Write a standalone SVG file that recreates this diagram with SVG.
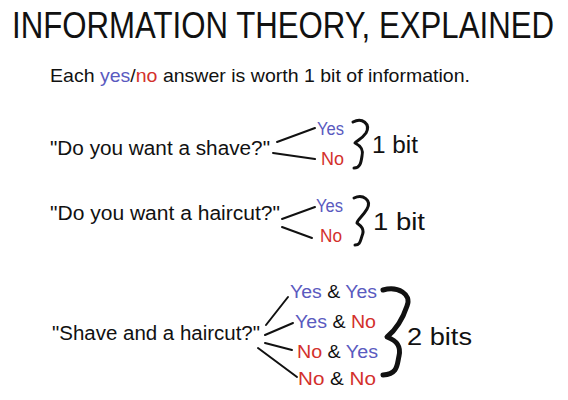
<svg xmlns="http://www.w3.org/2000/svg" width="568" height="400" viewBox="0 0 568 400">
<style>
text{font-family:"Liberation Sans","DejaVu Sans",sans-serif;fill:#111}
.y{fill:#5a5ac0}
.n{fill:#d3302c}
.q{font-size:20px}
.a{font-size:18px}
.b{font-size:23px}
.ln{stroke:#111;stroke-width:2;fill:none;stroke-linecap:round}
.br{stroke:#111;stroke-width:3;fill:none;stroke-linecap:round;stroke-linejoin:round}
</style>
<rect width="568" height="400" fill="#fff"/>
<g id="title"><text x="12" y="31.7" font-size="30" transform="scale(1,1.2)" textLength="542" lengthAdjust="spacingAndGlyphs">INFORMATION THEORY, EXPLAINED</text></g>
<g id="subtitle"><text x="50" y="82" font-size="19" textLength="420" lengthAdjust="spacingAndGlyphs">Each <tspan class="y">yes</tspan>/<tspan class="n">no</tspan> answer is worth 1 bit of information.</text></g>
<g id="q1">
<text class="q" x="50" y="155" textLength="220" lengthAdjust="spacingAndGlyphs">"Do you want a shave?"</text>
<text class="a y" x="317" y="135" textLength="27" lengthAdjust="spacingAndGlyphs">Yes</text>
<text class="a n" x="321" y="165" textLength="23" lengthAdjust="spacingAndGlyphs">No</text>
<text class="b" x="372" y="153" textLength="46" lengthAdjust="spacingAndGlyphs">1 bit</text>
</g>
<g id="q2">
<text class="q" x="50" y="220" textLength="230" lengthAdjust="spacingAndGlyphs">"Do you want a haircut?"</text>
<text class="a y" x="316" y="212" textLength="27" lengthAdjust="spacingAndGlyphs">Yes</text>
<text class="a n" x="320" y="242" textLength="22" lengthAdjust="spacingAndGlyphs">No</text>
<text class="b" x="373" y="230" textLength="52" lengthAdjust="spacingAndGlyphs">1 bit</text>
</g>
<g id="q3">
<text class="q" x="52" y="340" textLength="208" lengthAdjust="spacingAndGlyphs">"Shave and a haircut?"</text>
<text class="a" x="290" y="298" textLength="87" lengthAdjust="spacingAndGlyphs"><tspan class="y">Yes</tspan> &amp; <tspan class="y">Yes</tspan></text>
<text class="a" x="295" y="328" textLength="81" lengthAdjust="spacingAndGlyphs"><tspan class="y">Yes</tspan> &amp; <tspan class="n">No</tspan></text>
<text class="a" x="297" y="358" textLength="81" lengthAdjust="spacingAndGlyphs"><tspan class="n">No</tspan> &amp; <tspan class="y">Yes</tspan></text>
<text class="a" x="298" y="385" textLength="78" lengthAdjust="spacingAndGlyphs"><tspan class="n">No</tspan> &amp; <tspan class="n">No</tspan></text>
<text class="b" x="407" y="345" font-size="25" textLength="65" lengthAdjust="spacingAndGlyphs">2 bits</text>
</g>
<g id="connectors">
<path class="ln" d="M277,142 L315,128"/>
<path class="ln" d="M273,153 L315,159"/>
<path class="ln" d="M282,219 L315,207"/>
<path class="ln" d="M282,227 L312,238"/>
<path class="ln" d="M266,325 L288,297"/>
<path class="ln" d="M265,335 L293,323"/>
<path class="ln" d="M265,343 L292,350"/>
<path class="ln" d="M258,348 L297,377"/>
<path class="br" d="M353,122 C362,117 371,124 366,133 C362,139 356,141 355,143 C359,145 364,148 362,156 C361,163 360,168 354,168"/>
<path class="br" d="M354,198 C363,194 372,200 367,209 C363,216 357,220 357,223 C361,226 365,229 362,236 C360,242 360,245 355,245"/>
<path class="br" style="stroke-width:5" d="M383,290 C398,286 412,294 407,306 C403,318 398,328 387,337 C398,341 401,347 399,356 C397,365 398,374 383,375"/>
</g>
</svg>
